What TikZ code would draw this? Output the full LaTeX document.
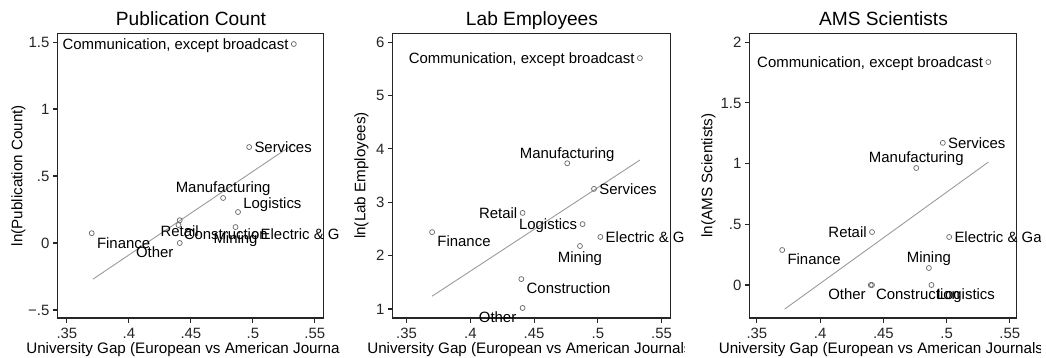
\documentclass[tikz,border=0pt]{standalone}
\usepackage{fontspec}
\setmainfont{Liberation Sans}

\tikzset{
  lbl/.style={font=\fontsize{8.5}{10}\selectfont, inner sep=0pt, text height=6.1pt, text depth=0pt},
  axt/.style={lbl, font=\fontsize{8.65}{10}\selectfont},
  ttl/.style={font=\fontsize{10.9}{13}\selectfont, inner sep=0pt, text height=7.8pt, text depth=0pt},
  mk/.style={circle, draw=black!60, line width=0.4pt, inner sep=0pt, minimum size=0.1cm},
  fitline/.style={black!40, line width=0.5pt},
  frame/.style={black!85, line width=0.6pt},
  % label positions (clock style)
  p3/.style={lbl, anchor=west, xshift=0.1cm},
  p9/.style={lbl, anchor=east, xshift=-0.1cm},
  p12/.style={lbl, yshift=0.21cm},
  p6/.style={lbl, yshift=-0.22cm},
  p2/.style={lbl, anchor=west, xshift=0.1cm, yshift=0.18cm},
  p4/.style={lbl, anchor=west, xshift=0.1cm, yshift=-0.19cm},
  p7/.style={lbl, anchor=east, xshift=-0.12cm, yshift=-0.19cm}
}

\begin{document}
\begin{tikzpicture}[x=0.02cm, y=0.02cm]
\useasboundingbox (0,0) rectangle (1046,358);

% ---- Publication Count
\begin{scope}
  \clip (0,0) rectangle (339,358);
  \node[ttl] (t1) at (191,339) {Publication Count};
  \node[axt, rotate=90] (yt1) at (17,182.5) {ln(Publication Count)};
  \node[axt] (xt1) at (191,10) {University Gap (European vs American Journals)};
  \begin{scope}[shift={(-367,115)}, x=24.8cm, y=2.68cm]
    \draw[frame] (0.34274,-0.5597) rectangle (0.55726,1.5672);
    \foreach \v/\t in {-.5/−.5,0/0,.5/.5,1/1,1.5/1.5}
      \draw[frame] (0.34274,\v) -- ++(-0.1cm,0) node[lbl, anchor=east, xshift=-0.06cm] {\t};
    \foreach \v in {.35,.4,.45,.5,.55}
      \draw[frame] (\v,-0.5597) -- ++(0,-0.1cm) node[lbl, anchor=north, yshift=-0.08cm] {\v};

    \coordinate (a1) at (.371,-.27);
    \coordinate (b1) at (.533,.74);
    \draw[fitline] (a1) -- (b1);

    \node[mk] (com1) at (.533,1.485) {};
    \node[mk] (ser1) at (.497,.716) {};
    \node[mk] (man1) at (.476,.336) {};
    \node[mk] (log1) at (.488,.231) {};
    \node[mk] (ret1) at (.441,.17) {};
    \node[mk] (con1) at (.440,.134) {};
    \node[mk] (min1) at (.486,.119) {};
    \node[mk] (ele1) at (.502,.065) {};
    \node[mk] (fin1) at (.370,.073) {};
    \node[mk] (oth1) at (.441,0) {};

    \node[p9] at (com1) {Communication, except broadcast};
    \node[p3] at (ser1) {Services};
    \node[p12] at (man1) {Manufacturing};
    \node[p2] at (log1) {Logistics};
    \node[p6] at (ret1) {Retail};
    \node[p4] at (con1) {Construction};
    \node[p6] at (min1) {Mining};
    \node[p3] at (ele1) {Electric \& Gas};
    \node[p4] at (fin1) {Finance};
    \node[p7] at (oth1) {Other};
  \end{scope}
\end{scope}

% ---- Lab Employees
\begin{scope}
  \clip (345,0) rectangle (684,358);
  \node[ttl] (t2) at (532,339) {Lab Employees};
  \node[axt, rotate=90] (yt2) at (360,182.5) {ln(Lab Employees)};
  \node[axt] (xt2) at (532,10) {University Gap (European vs American Journals)};
  \begin{scope}[shift={(-39.55,-4.4)}, x=25.5cm, y=1.068cm]
    \draw[frame] (0.33925,0.8315) rectangle (0.55729,6.1685);
    \foreach \v in {1,...,6}
      \draw[frame] (0.33925,\v) -- ++(-0.1cm,0) node[lbl, anchor=east, xshift=-0.06cm] {\v};
    \foreach \v in {.35,.4,.45,.5,.55}
      \draw[frame] (\v,0.8315) -- ++(0,-0.1cm) node[lbl, anchor=north, yshift=-0.08cm] {\v};

    \coordinate (a2) at (.370,1.24);
    \coordinate (b2) at (.533,3.79);
    \draw[fitline] (a2) -- (b2);

    \node[mk] (com2) at (.533,5.70) {};
    \node[mk] (man2) at (.476,3.73) {};
    \node[mk] (ser2) at (.497,3.25) {};
    \node[mk] (ret2) at (.441,2.80) {};
    \node[mk] (log2) at (.488,2.59) {};
    \node[mk] (ele2) at (.502,2.35) {};
    \node[mk] (fin2) at (.370,2.44) {};
    \node[mk] (min2) at (.486,2.18) {};
    \node[mk] (con2) at (.440,1.56) {};
    \node[mk] (oth2) at (.441,1.02) {};

    \node[p9] at (com2) {Communication, except broadcast};
    \node[p12] at (man2) {Manufacturing};
    \node[p3] at (ser2) {Services};
    \node[p9] at (ret2) {Retail};
    \node[p9] at (log2) {Logistics};
    \node[p3] at (ele2) {Electric \& Gas};
    \node[p4] at (fin2) {Finance};
    \node[p6] at (min2) {Mining};
    \node[p4] at (con2) {Construction};
    \node[p7] at (oth2) {Other};
  \end{scope}
\end{scope}

% ---- AMS Scientists
\begin{scope}
  \clip (695,0) rectangle (1040,358);
  \node[ttl] (t3) at (883.5,339) {AMS Scientists};
  \node[axt, rotate=90] (yt3) at (707,182.5) {ln(AMS Scientists)};
  \node[axt] (xt3) at (883.5,10) {University Gap (European vs American Journals)};
  \begin{scope}[shift={(314.25,73)}, x=25.3cm, y=2.43cm]
    \draw[frame] (0.34447,-0.2716) rectangle (0.55553,2.074);
    \foreach \v/\t in {0/0,.5/.5,1/1,1.5/1.5,2/2}
      \draw[frame] (0.34447,\v) -- ++(-0.1cm,0) node[lbl, anchor=east, xshift=-0.06cm] {\t};
    \foreach \v in {.35,.4,.45,.5,.55}
      \draw[frame] (\v,-0.2716) -- ++(0,-0.1cm) node[lbl, anchor=north, yshift=-0.08cm] {\v};

    \coordinate (a3) at (.372,-.198);
    \coordinate (b3) at (.533,1.012);
    \draw[fitline] (a3) -- (b3);

    \node[mk] (com3) at (.533,1.835) {};
    \node[mk] (ser3) at (.497,1.17) {};
    \node[mk] (man3) at (.476,.963) {};
    \node[mk] (ret3) at (.441,.436) {};
    \node[mk] (ele3) at (.502,.395) {};
    \node[mk] (fin3) at (.370,.288) {};
    \node[mk] (min3) at (.486,.14) {};
    \node[mk] (oth3) at (.441,0) {};
    \node[mk] (con3) at (.440,0) {};
    \node[mk] (log3) at (.488,0) {};

    \node[p9] at (com3) {Communication, except broadcast};
    \node[p3] at (ser3) {Services};
    \node[p12] at (man3) {Manufacturing};
    \node[p9] at (ret3) {Retail};
    \node[p3] at (ele3) {Electric \& Gas};
    \node[p4] at (fin3) {Finance};
    \node[p12] at (min3) {Mining};
    \node[p7] at (oth3) {Other};
    \node[p4] at (con3) {Construction};
    \node[p4] at (log3) {Logistics};
  \end{scope}
\end{scope}
\end{tikzpicture}
\end{document}
